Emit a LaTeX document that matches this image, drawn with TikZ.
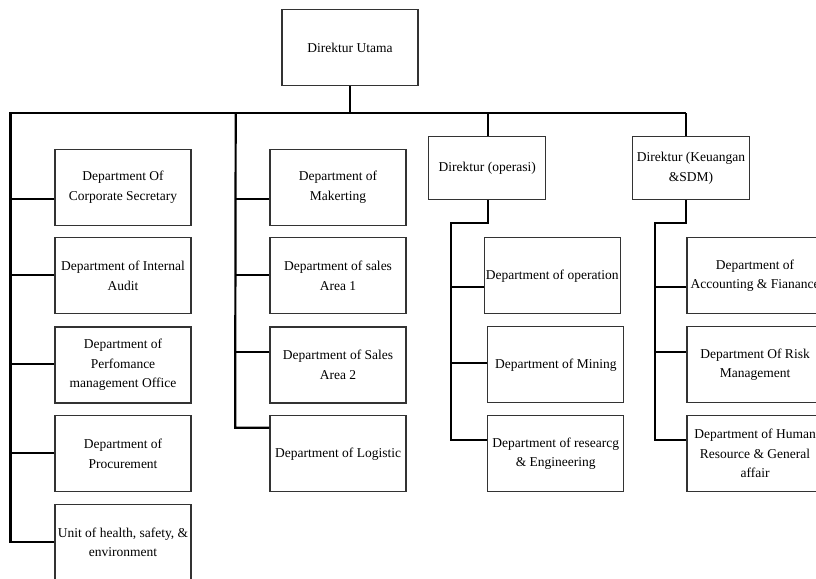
\documentclass[tikz,border=0pt]{standalone}
\usepackage{fontspec}
\setmainfont{Liberation Serif}
\usetikzlibrary{calc}
\begin{document}
\begin{tikzpicture}[x=1pt,y=-1pt,
  box/.style={draw=black!80, line width=1.1pt, minimum width=136pt, minimum height=76pt,
    align=center, inner sep=0pt, font=\fontsize{13.5}{19.5}\selectfont},
  dirbox/.style={box, minimum width=117pt, minimum height=63pt},
  conn/.style={line width=2.2pt, black}]
\useasboundingbox (0,0) rectangle (816,578);
\clip (0,0) rectangle (816,578);
\fill[white] (0,0) rectangle (816,578);

% top
\node[box, minimum height=76.4pt] (du) at (350,47.5) {Direktur Utama};
\coordinate (hl) at (11,113);
\coordinate (htr) at (686,113);

% directors
\node[dirbox] (dop) at (487.2,168.3) {Direktur (operasi)};
\node[dirbox] (dke) at (691,168.3) {Direktur (Keuangan\\\&SDM)};

% left column
\node[box] (cs) at (123,187.3) {Department Of\\Corporate Secretary};
\node[box] (ia) at (123,275.7) {Department of Internal\\Audit};
\node[box] (pm) at (123,365) {Department of\\Perfomance\\management Office};
\node[box] (pr) at (123,453.7) {Department of\\Procurement};
\node[box] (uh) at (123,542.3) {Unit of health, safety, \&\\environment};

% second column
\node[box] (mk) at (338,187.3) {Department of\\Makerting};
\node[box] (s1) at (338,275.7) {Department of sales\\Area 1};
\node[box] (s2) at (338,365) {Department of Sales\\Area 2};
\node[box] (lg) at (338,453.7) {Department of Logistic};

% third column
\node[box] (op) at (552.2,275.8) {Department of operation};
\node[box] (mi) at (555.8,364.7) {Department of Mining};
\node[box] (rs) at (555.8,453.8) {Department of researcg\\\& Engineering};

% fourth column
\node[box] (ac) at (755,275.8) {Department of\\Accounting \& Fianance};
\node[box] (rk) at (755,364.7) {Department Of Risk\\Management};
\node[box] (hrg) at (755,453.8) {Department of Human\\Resource \& General\\affair};

% main connectors
\draw[conn] (du.south) -- (du.south |- hl);
\draw[conn] (uh.west) -- ++(-44,0) |- (htr);
\draw[conn] ([yshift=-11.7pt]cs.west) -- ++(-44,0);
\draw[conn] ([yshift=0.7pt]ia.west) -- ++(-44,0);
\draw[conn] ([yshift=0.7pt]pm.west) -- ++(-44,0);
\draw[conn] ([yshift=1pt]pr.west) -- ++(-44,0);

% second column trunk
\draw[conn] ([yshift=26pt]lg.west) -- ++(-34.3,0) -- (235.7,113);
\draw[conn] ([yshift=-11.7pt]mk.west) -- ++(-34.3,0);
\draw[conn] ([yshift=0.7pt]s1.west) -- ++(-34.3,0);
\draw[conn] ([yshift=13.3pt]s2.west) -- ++(-34.3,0);

% operasi
\coordinate (opx) at (487.7,113);
\draw[conn] (opx) -- (opx |- dop.north);
\draw[conn] (opx |- dop.south) -- (487.7,223.3) -- (450.7,223.3) |- ([yshift=13.8pt]rs.west);
\draw[conn] ([yshift=-11.5pt]op.west) -- (450.7,287.3);
\draw[conn] ([yshift=1.4pt]mi.west) -- (450.7,363.3);

% keuangan
\draw[conn] (htr) -- (htr |- dke.north);
\draw[conn] (htr |- dke.south) -- (686,223.3) -- (655,223.3) |- ([yshift=13.8pt]hrg.west);
\draw[conn] ([yshift=-11.5pt]ac.west) -- (655,287.3);
\draw[conn] ([yshift=13pt]rk.west) -- (655,351.7);
\end{tikzpicture}
\end{document}
